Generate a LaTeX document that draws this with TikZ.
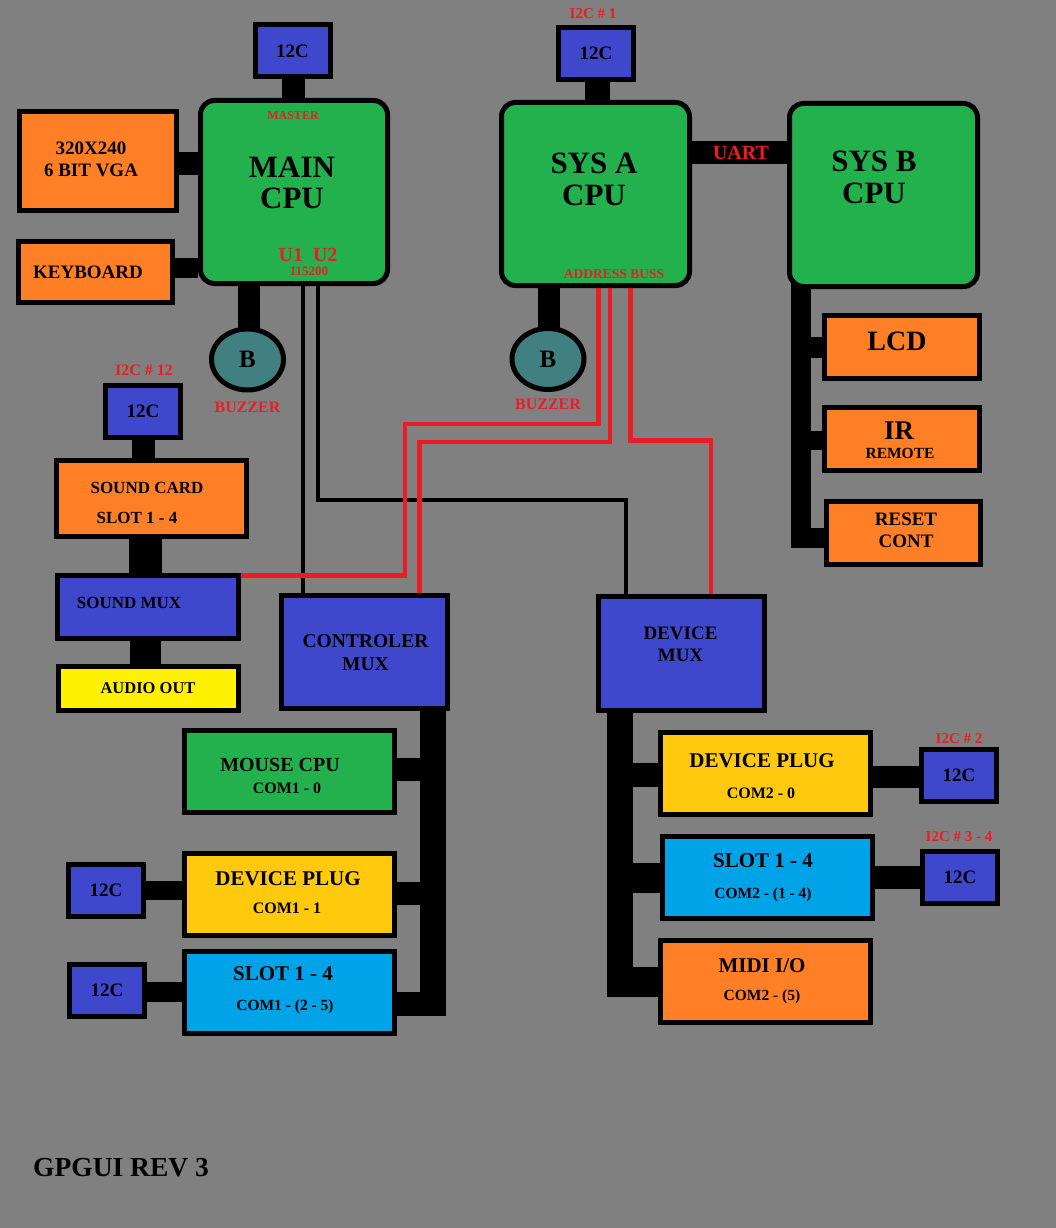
\documentclass[tikz,border=0pt]{standalone}
\usepackage{fontspec}
\setmainfont{Liberation Serif}
\usetikzlibrary{shapes.geometric}
\definecolor{bggray}{RGB}{128,128,128}
\definecolor{orng}{RGB}{255,127,39}
\definecolor{cpugreen}{RGB}{34,177,76}
\definecolor{iblue}{RGB}{63,72,204}
\definecolor{ylw}{RGB}{255,242,0}
\definecolor{gold}{RGB}{255,201,14}
\definecolor{cyn}{RGB}{0,162,232}
\definecolor{tealb}{RGB}{64,128,128}
\definecolor{redc}{RGB}{237,28,36}
\newcommand\myfs[2]{\bfseries\fontsize{#1}{#2}\selectfont}
\pgfdeclarelayer{bg}
\pgfdeclarelayer{conn}
\pgfsetlayers{bg,conn,main}
\begin{document}
\begin{tikzpicture}[x=1pt,y=-1pt,
  box/.style={draw=black, line width=5pt, inner sep=0pt},
  cpu/.style={box, fill=cpugreen, rounded corners=14pt, minimum width=188pt, minimum height=183pt},
  ibox/.style={box, fill=iblue, minimum width=75pt, minimum height=52pt, font=\myfs{19}{22}},
  bz/.style={ellipse, draw=black, line width=5pt, fill=tealb, inner sep=0pt, minimum width=72pt, minimum height=61pt, font=\myfs{25}{26}},
  tx/.style={inner sep=0pt, align=center, text depth=0pt},
  rt/.style={tx, text=redc},
  cbar/.style={draw=black, line width=#1},
  wire/.style={draw=black, line width=4pt},
  rwire/.style={draw=redc, line width=4.5pt}]
\useasboundingbox (0,0) rectangle (1056,1228);
\begin{pgfonlayer}{bg}
\fill[bggray] (0,0) rectangle (1056,1228);
\end{pgfonlayer}

% ---- top left
\node[ibox] (i2cm) at (292.5,51) {12C};
\node[cpu, minimum width=187pt] (main) at (294,192) {};
\node[box, fill=orng, minimum width=157pt, minimum height=99pt] (vga) at (98,161) {};
\node[box, fill=orng, minimum width=154pt, minimum height=61pt] (kbd) at (95.5,272) {};
\node[bz] (bz1) at (247.5,359.5) {B};

% ---- top middle / right
\node[ibox] (i2ca) at (596,53.5) {12C};
\node[cpu] (sysa) at (595.5,194) {};
\node[cpu] (sysb) at (883.5,195) {};
\node[bz] (bz2) at (548,359) {B};
\node[box, fill=orng, minimum width=155pt, minimum height=63pt] (lcd) at (902,347) {};
\node[box, fill=orng, minimum width=155pt, minimum height=63pt] (ir) at (902,439) {};
\node[box, fill=orng, minimum width=154pt, minimum height=63pt] (reset) at (903.5,533) {};

% ---- left column
\node[ibox] (i2c12) at (143,411) {12C};
\node[box, fill=orng, minimum width=190pt, minimum height=76pt] (scard) at (151.5,498.5) {};
\node[box, fill=iblue, minimum width=181pt, minimum height=63pt] (smux) at (148,607) {};
\node[box, fill=ylw, minimum width=180pt, minimum height=44pt] (aout) at (148.5,688.5) {};

% ---- muxes
\node[box, fill=iblue, minimum width=166pt, minimum height=113pt] (cmux) at (364.5,652) {};
\node[box, fill=iblue, minimum width=166pt, minimum height=114pt] (dmux) at (681.5,653.5) {};

% ---- controller side
\node[box, fill=cpugreen, minimum width=210pt, minimum height=82pt] (mouse) at (289.5,771.5) {};
\node[box, fill=gold, minimum width=210pt, minimum height=82pt] (dplugl) at (289.5,894.5) {};
\node[box, fill=cyn, minimum width=210pt, minimum height=82pt] (slotl) at (289.5,992.5) {};
\node[ibox] (i2cl1) at (106,890.5) {12C};
\node[ibox] (i2cl2) at (107,990.5) {12C};

% ---- device side
\node[box, fill=gold, minimum width=210pt, minimum height=82pt] (dplugr) at (765.5,773.5) {};
\node[box, fill=cyn, minimum width=210pt, minimum height=82pt] (slotr) at (767.5,877.5) {};
\node[box, fill=orng, minimum width=210pt, minimum height=82pt] (midi) at (765.5,981.5) {};
\node[ibox] (i2cr1) at (959,775.5) {12C};
\node[ibox] (i2cr2) at (960,877.5) {12C};

% ---- texts
\node[rt, font=\myfs{12}{13}] (tmaster) at (293,115.5) {MASTER};
\node[tx, font=\myfs{31}{31.5}] (tmain) at (292,183) {MAIN\\CPU};
\node[rt, font=\myfs{20}{21}] (tu) at (308,255) {U1~~U2};
\node[rt, font=\myfs{13}{14}] (tbaud) at (309,271.5) {115200};
\node[tx, font=\myfs{19}{22.5}] (tvga) at (91,159) {320X240\\6 BIT VGA};
\node[tx, font=\myfs{19}{20}] (tkbd) at (88,272) {KEYBOARD};
\node[rt, font=\myfs{16}{17}] (tbz1) at (247.5,407) {BUZZER};

\node[rt, font=\myfs{15}{16}] (ti2c1) at (593,14) {I2C \# 1};
\node[tx, font=\myfs{31}{32}] (tsysa) at (594,179.5) {SYS A\\CPU};
\node[rt, font=\myfs{13.5}{14}] (taddr) at (614,274) {ADDRESS BUSS};
\node[rt, font=\myfs{20}{21}] (tuart) at (741,152.5) {UART};
\node[tx, font=\myfs{31}{32}] (tsysb) at (874,177) {SYS B\\CPU};
\node[rt, font=\myfs{16}{17}] (tbz2) at (548,404.5) {BUZZER};
\node[tx, font=\myfs{28}{29}] (tlcd) at (897,341.5) {LCD};
\node[tx, font=\myfs{27}{28}] (tir) at (899,431) {IR};
\node[tx, font=\myfs{15.5}{16}] (tremote) at (900,453.5) {REMOTE};
\node[tx, font=\myfs{19}{22.5}] (treset) at (906,530) {RESET\\CONT};

\node[rt, font=\myfs{16}{17}] (ti2c12) at (144,370.5) {I2C \# 12};
\node[tx, font=\myfs{17}{18}] (tscard) at (147,487.5) {SOUND CARD};
\node[tx, font=\myfs{17}{18}] (tslot) at (137,517.5) {SLOT 1 - 4};
\node[tx, font=\myfs{17}{18}] (tsmux) at (129,602.5) {SOUND MUX};
\node[tx, font=\myfs{16.5}{17}] (taout) at (148,688.5) {AUDIO OUT};

\node[tx, font=\myfs{19.5}{23}] (tcmux) at (365.5,653) {CONTROLER\\MUX};
\node[tx, font=\myfs{19}{22.5}] (tdmux) at (680.5,644) {DEVICE\\MUX};

\node[tx, font=\myfs{20}{21}] (tmouse) at (280,764.5) {MOUSE CPU};
\node[tx, font=\myfs{16}{17}] (tc10) at (287,788.5) {COM1 - 0};
\node[tx, font=\myfs{21}{22}] (tdpl) at (288,879) {DEVICE PLUG};
\node[tx, font=\myfs{16}{17}] (tc11) at (287,908.5) {COM1 - 1};
\node[tx, font=\myfs{21}{22}] (tsll) at (283,974) {SLOT 1 - 4};
\node[tx, font=\myfs{15.5}{17}] (tc12) at (285,1005) {COM1 - (2 - 5)};

\node[tx, font=\myfs{21}{22}] (tdpr) at (762,761) {DEVICE PLUG};
\node[tx, font=\myfs{16}{17}] (tc20) at (761,793.5) {COM2 - 0};
\node[tx, font=\myfs{21}{22}] (tslr) at (763,860.5) {SLOT 1 - 4};
\node[tx, font=\myfs{15.5}{17}] (tc21) at (763,893) {COM2 - (1 - 4)};
\node[tx, font=\myfs{21}{22}] (tmidi) at (762,966) {MIDI I/O};
\node[tx, font=\myfs{15.5}{17}] (tc25) at (762,995.5) {COM2 - (5)};
\node[rt, font=\myfs{15}{16}] (ti2c2) at (959,738.5) {I2C \# 2};
\node[rt, font=\myfs{15}{16}] (ti2c34) at (959,836.5) {I2C \# 3 - 4};

\node[tx, font=\myfs{27.5}{28}, anchor=west] (tgp) at (33,1167) {GPGUI REV 3};

% ---- connectors
\begin{pgfonlayer}{conn}
\draw[cbar=23pt] (i2cm.south -| 293.5,0) -- (main.north -| 293.5,0);
\draw[cbar=23pt] (vga.east |- 0,163.5) -- (main.west |- 0,163.5);
\draw[cbar=20pt] (kbd.east |- 0,268) -- (main.west |- 0,268);
\draw[cbar=22pt] (main.south -| 249,0) -- (bz1.center -| 249,0);

\draw[cbar=25pt] (i2ca.south -| 597.5,0) -- (sysa.north -| 597.5,0);
\draw[cbar=23pt] (sysa.east |- 0,152.5) -- (sysb.west |- 0,152.5);
\draw[cbar=22pt] (sysa.south -| 549,0) -- (bz2.center -| 549,0);

\coordinate (busB) at (800.5,538);
\draw[cbar=20pt] (busB |- sysb.center) -- (busB) -- (reset.west |- busB);
\draw[cbar=21pt] (lcd.west) -- (lcd.west -| busB);
\draw[cbar=19pt] (ir.west |- 0,440.5) -- (busB |- 0,440.5);

\draw[cbar=23pt] (i2c12.south -| 143.5,0) -- (scard.north -| 143.5,0);
\draw[cbar=33pt] (scard.south -| 145.5,0) -- (smux.north -| 145.5,0);
\draw[cbar=31pt] (smux.south -| 145.5,0) -- (aout.north -| 145.5,0);

\coordinate (busC) at (432.5,1016);
\coordinate (busCl) at (419.5,1004);
\draw[cbar=26pt] (cmux.south -| busC) -- (busC);
\draw[cbar=24pt] (slotl.east |- busCl) -- (busCl);
\draw[cbar=23pt] (mouse.east |- 0,769.5) -- (busC |- 0,769.5);
\draw[cbar=23pt] (dplugl.east |- 0,893.5) -- (busC |- 0,893.5);
\draw[cbar=19pt] (i2cl1.east) -- (dplugl.west |- i2cl1.east);
\draw[cbar=20pt] (i2cl2.east |- 0,992) -- (slotl.west |- 0,992);

\coordinate (busD) at (620,997);
\coordinate (busDl) at (607,982);
\draw[cbar=26pt] (dmux.south -| busD) -- (busD);
\draw[cbar=30pt] (midi.west |- busDl) -- (busDl);
\draw[cbar=24pt] (dplugr.west |- 0,775) -- (busD |- 0,775);
\draw[cbar=30pt] (slotr.west |- 0,878) -- (busD |- 0,878);
\draw[cbar=22pt] (dplugr.east |- 0,777) -- (i2cr1.west |- 0,777);
\draw[cbar=23pt] (slotr.east |- 0,877.5) -- (i2cr2.west |- 0,877.5);

\draw[wire] (main.south -| 303,0) -- (cmux.north -| 303,0);
\draw[wire] (main.south -| 318,0) -- (318,499.5) -| (dmux.north -| 626,0);

\draw[rwire] (sysa.south -| 598.5,0) -- (598.5,424) -| (405,575.5) -- (smux.east |- 0,575.5);
\draw[rwire] (sysa.south -| 610,0) -- (610,442) -| (cmux.north -| 419.5,0);
\draw[rwire] (sysa.south -| 630.5,0) -- (630.5,440.5) -| (dmux.north -| 711,0);
\end{pgfonlayer}
\end{tikzpicture}
\end{document}
